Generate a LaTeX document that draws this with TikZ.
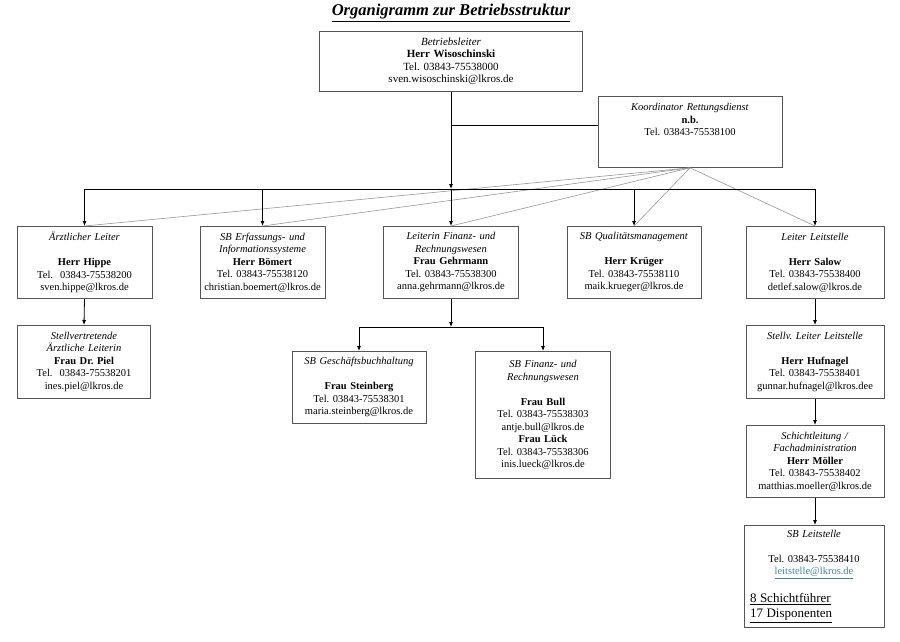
\documentclass[tikz,border=0pt]{standalone}
\usepackage{fontspec}
\setmainfont{Liberation Serif}
\usepackage{xcolor}
\usepackage{tikz}
\usetikzlibrary{arrows.meta}
\definecolor{boxgray}{RGB}{85,85,85}
\definecolor{linegray}{RGB}{150,150,150}
\definecolor{linkcol}{RGB}{70,130,150}
\tikzstyle{arrow} = [-{Latex[length=5pt,width=4pt]}, line width=0.8pt]
\tikzstyle{orgbox} = [draw=boxgray, line width=0.8pt, anchor=north, align=center, inner xsep=3pt, inner ysep=2pt, font=\fontsize{10.5}{12.5}\selectfont]
\tikzstyle{koordline} = [draw=linegray, line width=0.6pt]
\frenchspacing

\begin{document}
\begin{tikzpicture}[x=1pt, y=-1pt]
		\useasboundingbox (0,0) rectangle (900,641);
		\node (title) at (451,13) {\fontsize{16.5}{20}\selectfont\bfseries\itshape\underline{Organigramm zur Betriebsstruktur}};
		
		\node (leiter) [orgbox, font=\fontsize{11}{12.5}\selectfont, text width=257pt, minimum height=60pt] at (451,31) {\textit{Betriebsleiter}\\ \textbf{Herr Wisoschinski}\\ Tel. 03843-75538000\\ sven.wisoschinski@lkros.de};
		\node (koord) [orgbox, text width=178pt, minimum height=71pt] at (690,96) {\textit{Koordinator Rettungsdienst}\\ \textbf{n.b.}\\ Tel. 03843-75538100\\[12.5pt] \mbox{}};
		
		\node (arzt) [orgbox, text width=129pt, minimum height=72pt] at (84.5,226) {\textit{Ärztlicher Leiter}\\[12.5pt] \textbf{Herr Hippe}\\ Tel.~~03843-75538200\\ sven.hippe@lkros.de};
		\node (erfass) [orgbox, text width=119pt, minimum height=72pt] at (262.5,226) {\textit{SB Erfassungs- und}\\ \textit{Informationssysteme}\\ \textbf{Herr Bömert}\\ Tel. 03843-75538120\\ christian.boemert@lkros.de};
		\node (finanz) [orgbox, text width=129pt, minimum height=72pt] at (451,226) {\textit{Leiterin Finanz- und}\\ \textit{Rechnungswesen}\\ \textbf{Frau Gehrmann}\\ Tel. 03843-75538300\\ anna.gehrmann@lkros.de};
		\node (quali) [orgbox, text width=128pt, minimum height=72pt] at (634,226) {\textit{SB Qualitätsmanagement}\\[12.5pt] \textbf{Herr Krüger}\\ Tel. 03843-75538110\\ maik.krueger@lkros.de};
		\node (leitst) [orgbox, text width=132pt, minimum height=72pt] at (815,226) {\textit{Leiter Leitstelle}\\[12.5pt] \textbf{Herr Salow}\\ Tel. 03843-75538400\\ detlef.salow@lkros.de};
		
		\node (stvarzt) [orgbox, text width=127pt, minimum height=73pt] at (84,325) {\textit{Stellvertretende}\\ \textit{Ärztliche Leiterin}\\ \textbf{Frau Dr. Piel}\\ Tel.~~03843-75538201\\ ines.piel@lkros.de};
		\node (buch) [orgbox, text width=128pt, minimum height=72pt] at (359,351) {\textit{SB Geschäftsbuchhaltung}\\[12.5pt] \textbf{Frau Steinberg}\\ Tel. 03843-75538301\\ maria.steinberg@lkros.de};
		\node (sbfin) [orgbox, text width=129pt, minimum height=127pt] at (543,351) {\textit{SB Finanz- und}\\ \textit{Rechnungswesen}\\[12.5pt] \textbf{Frau Bull}\\ Tel. 03843-75538303\\ antje.bull@lkros.de\\ \textbf{Frau Lück}\\ Tel. 03843-75538306\\ inis.lueck@lkros.de};
		
		\node (stvleit) [orgbox, text width=132pt, minimum height=73pt] at (815,325) {\textit{Stellv. Leiter Leitstelle}\\[12.5pt] \textbf{Herr Hufnagel}\\ Tel. 03843-75538401\\ gunnar.hufnagel@lkros.dee};
		\node (schicht) [orgbox, text width=132pt, minimum height=72pt] at (815,425) {\textit{Schichtleitung /}\\ \textit{Fachadministration}\\ \textbf{Herr Möller}\\ Tel. 03843-75538402\\ matthias.moeller@lkros.de};
		\node (sbleit) [orgbox, text width=128pt, inner xsep=6pt, minimum height=102pt] at (814,525) {\textit{SB Leitstelle}\\[12.5pt] Tel. 03843-75538410\\ \textcolor{linkcol}{\underline{leitstelle@lkros.de}}\\[14pt] \makebox[\linewidth][l]{\fontsize{13}{15}\selectfont\underline{8 Schichtführer}}\\[2.5pt] \makebox[\linewidth][l]{\fontsize{13}{15}\selectfont\underline{17 Disponenten}}};
		
		\coordinate (kjoin) at (451,125);
		\coordinate (bus) at (451,189);
		\coordinate (finsplit) at (451,327);
		
		% Koordinator
		\draw [line width=0.8pt] (kjoin) -- (kjoin -| koord.west);
		\foreach \n in {arzt,erfass,finanz,quali,leitst}
			\draw [koordline] (koord.south) -- (\n.north);
		
		% Betriebsleiter
		\draw [arrow] (leiter.south) -- (bus);
		\draw [line width=0.8pt] (arzt.north |- bus) -- (leitst.north |- bus);
		\foreach \n in {arzt,erfass,finanz,quali,leitst}
			\draw [arrow] (\n.north |- bus) -- (\n.north);
		
		\draw [arrow] (arzt.south) -- (stvarzt.north);
		
		\draw [arrow] (finanz.south) -- (finsplit);
		\draw [line width=0.8pt] (buch.north |- finsplit) -- (sbfin.north |- finsplit);
		\draw [arrow] (buch.north |- finsplit) -- (buch.north);
		\draw [arrow] (sbfin.north |- finsplit) -- (sbfin.north);
		
		\draw [arrow] (leitst.south) -- (stvleit.north);
		\draw [arrow] (stvleit.south) -- (schicht.north);
		\draw [arrow] (schicht.south) -- (sbleit.north -| schicht.south);
	\end{tikzpicture}
\end{document}
